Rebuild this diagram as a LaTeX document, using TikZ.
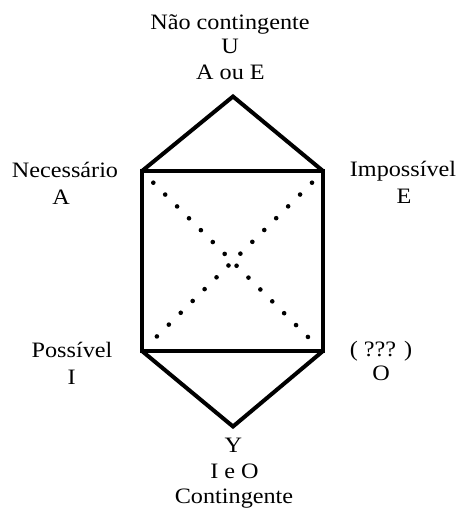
\documentclass[tikz,border=0pt]{standalone}
\usepackage{fontspec}
\setmainfont{Liberation Serif}[FakeStretch=1.1]
\begin{document}
\begin{tikzpicture}[x=1pt,y=-1pt,
  lbl/.style={anchor=base,inner sep=0pt,font=\fontsize{22}{25}\selectfont},
  sq/.style={line width=4.8pt,line join=miter},
  roof/.style={line width=4pt,line join=miter},
  dotline/.style={line width=4.6pt,line cap=round,dash pattern=on 0pt off 16.8pt}]
\useasboundingbox (0,0) rectangle (456,508);
% corners
\coordinate (cA) at (142,171);
\coordinate (cE) at (323,171);
\coordinate (cI) at (142,351);
\coordinate (cO) at (323,351);
\coordinate (cU) at (233,96.5);
\coordinate (cY) at (233,426.5);
% square and roofs
\draw[sq] (cA) -- (cE) -- (cO) -- (cI) -- cycle;
\draw[roof] (cA) -- (cU) -- (cE);
\draw[roof] (cI) -- (cY) -- (cO);
% dotted diagonals
\coordinate (d1s) at (153.3,182.7);
\coordinate (d1e) at (308.3,337.3);
\coordinate (d2s) at (312,182.7);
\coordinate (d2e) at (156,337.3);
\draw[dotline] (d1s) -- (d1e);
\draw[dotline] (d2s) -- (d2e);
% labels
\node[lbl] (t1) at (230,29.3) {Não contingente};
\node[lbl] (t2) at (230,54) {U};
\node[lbl] (t3) at (230.5,79.3) {A ou E};
\node[lbl] (l1) at (65,177.3) {Necessário};
\node[lbl] (l2) at (61,204) {A};
\node[lbl] (r1) at (403,176.5) {Impossível};
\node[lbl] (r2) at (404,203.5) {E};
\node[lbl] (l3) at (72,357.3) {Possível};
\node[lbl] (l4) at (71.7,384) {I};
\node[lbl] (r3) at (381,356) {( ??? )};
\node[lbl] (r4) at (381,380.5) {O};
\node[lbl] (b1) at (233.3,452.7) {Y};
\node[lbl] (b2) at (234.5,478.7) {I e O};
\node[lbl] (b3) at (234,503.5) {Contingente};
\end{tikzpicture}
\end{document}
